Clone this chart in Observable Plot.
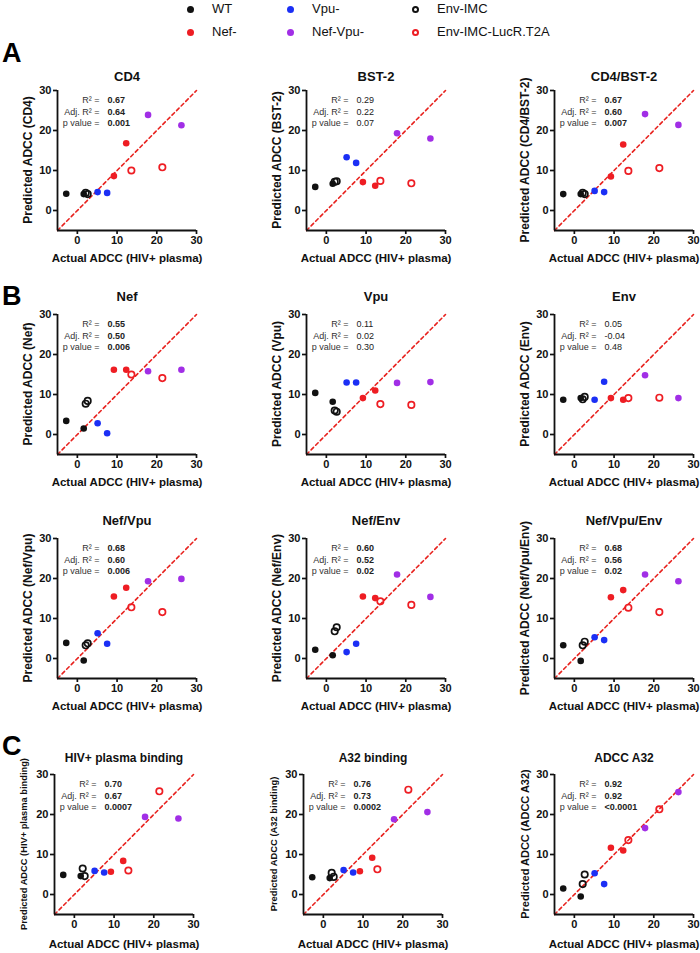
<!DOCTYPE html>
<html><head><meta charset="utf-8">
<script src="https://cdn.jsdelivr.net/npm/d3@7"></script>
<script src="https://cdn.jsdelivr.net/npm/@observablehq/plot@0.6"></script>
<style>
body{margin:0;background:#fff;font-family:"Liberation Sans",Arial,Helvetica,sans-serif;}
#root{position:relative;width:700px;height:953px;overflow:hidden;background:#fff;}
.abs{position:absolute;white-space:nowrap;line-height:1;}
</style></head><body><div id="root"></div>
<script>
// ---------- DATA ----------
const groups = ["WT", "Nef-", "Vpu-", "Nef-Vpu-", "Env-IMC", "Env-IMC-LucR.T2A"];
const groupColors = ["#111111", "#ee1d23", "#1b2ff5", "#a12ee6", "#111111", "#ee1d23"];
const groupFilled = [true, true, true, true, false, false];

const pointGroup = ["WT", "WT", "Env-IMC", "Env-IMC", "Vpu-", "Vpu-", "Nef-", "Nef-",
  "Env-IMC-LucR.T2A", "Env-IMC-LucR.T2A", "Nef-Vpu-", "Nef-Vpu-"];
const actualADCC = [-2.8, 1.6, 2.1, 2.6, 5.1, 7.5, 9.2, 12.3, 13.6, 21.4, 17.8, 26.2];

const predCD4      = [4.2, 4.1, 4.4, 4.1, 4.6, 4.4, 8.6, 16.8, 10.0, 10.8, 23.9, 21.3];
const predBST2     = [5.9, 6.7, 7.2, 7.3, 13.3, 11.9, 7.1, 6.2, 7.4, 6.8, 19.3, 18.0];
const predCD4BST2  = [4.1, 4.1, 4.4, 4.1, 4.9, 4.6, 8.5, 16.5, 9.9, 10.6, 24.1, 21.4];
const predNef      = [3.4, 1.5, 7.7, 8.4, 2.8, 0.3, 16.2, 16.2, 15.0, 14.1, 15.8, 16.2];
const predVpu      = [10.4, 8.2, 6.0, 5.7, 13.0, 13.0, 9.1, 11.0, 7.6, 7.4, 12.9, 13.1];
const predEnv      = [8.7, 9.1, 8.8, 9.4, 8.7, 13.2, 9.1, 8.7, 9.1, 9.2, 14.8, 9.1];
const predNefVpu   = [3.9, -0.5, 3.3, 3.8, 6.3, 3.7, 15.5, 17.7, 12.8, 11.6, 19.3, 19.9];
const predNefEnv   = [2.2, 0.8, 6.8, 7.8, 1.6, 3.7, 15.5, 15.1, 14.3, 13.4, 21.0, 15.4];
const predNefVpuEnv= [3.3, -0.6, 3.3, 4.2, 5.3, 4.6, 15.3, 17.1, 12.7, 11.6, 21.0, 19.3];
const predPlasmaBinding = [4.9, 4.6, 6.5, 4.6, 5.9, 5.5, 5.7, 8.4, 6.0, 25.8, 19.4, 19.0];
const predA32Binding    = [4.3, 4.1, 5.4, 4.4, 6.1, 5.5, 5.8, 9.2, 6.3, 26.2, 18.8, 20.6];
const predADCCA32       = [1.5, -0.5, 2.6, 5.0, 5.3, 2.6, 11.7, 11.0, 13.6, 21.3, 16.6, 25.6];

const panelTitles = ["CD4", "BST-2", "CD4/BST-2", "Nef", "Vpu", "Env", "Nef/Vpu", "Nef/Env",
  "Nef/Vpu/Env", "HIV+ plasma binding", "A32 binding", "ADCC A32"];
const yLabels = ["Predicted ADCC (CD4)", "Predicted ADCC (BST-2)", "Predicted ADCC (CD4/BST-2)",
  "Predicted ADCC (Nef)", "Predicted ADCC (Vpu)", "Predicted ADCC (Env)",
  "Predicted ADCC (Nef/Vpu)", "Predicted ADCC (Nef/Env)", "Predicted ADCC (Nef/Vpu/Env)",
  "Predicted ADCC (HIV+ plasma binding)", "Predicted ADCC (A32 binding)", "Predicted ADCC (ADCC A32)"];
const xLabel = "Actual ADCC (HIV+ plasma)";
const statLabels = ["R\u00B2 =", "Adj. R\u00B2 =", "p value ="];
const r2Values    = ["0.67", "0.29", "0.67", "0.55", "0.11", "0.05", "0.68", "0.60", "0.68", "0.70", "0.76", "0.92"];
const adjR2Values = ["0.64", "0.22", "0.60", "0.50", "0.02", "-0.04", "0.60", "0.52", "0.56", "0.67", "0.73", "0.92"];
const pValues     = ["0.001", "0.07", "0.007", "0.006", "0.30", "0.48", "0.006", "0.02", "0.02", "0.0007", "0.0002", "<0.0001"];
const significant = [true, false, true, true, false, false, true, true, true, true, true, true];
const panelLetters = ["A", "B", "C"];
const tickValues = [0, 10, 20, 30];
const axisDomain = [-5, 30];

const predictedSeries = [predCD4, predBST2, predCD4BST2, predNef, predVpu, predEnv,
  predNefVpu, predNefEnv, predNefVpuEnv, predPlasmaBinding, predA32Binding, predADCCA32];

// ---------- LAYOUT ----------
const font = '"Liberation Sans", Arial, Helvetica, sans-serif';
const root = document.getElementById("root");
function addText(txt, css) {
  const d = document.createElement("div");
  d.className = "abs"; d.textContent = txt;
  Object.assign(d.style, {fontFamily: font}, css);
  root.appendChild(d);
  return d;
}

// legend
const legendCols = [190, 290, 415];
const legendRows = [9, 32];
groups.forEach((g, i) => {
  const cx = legendCols[Math.floor(i / 2)], cy = legendRows[i % 2];
  const m = document.createElement("div");
  m.className = "abs";
  const filled = groupFilled[i];
  Object.assign(m.style, {
    left: (cx - 3.5) + "px", top: (cy - 3.5) + "px", width: "7px", height: "7px",
    borderRadius: "50%", boxSizing: "border-box",
    background: filled ? groupColors[i] : "transparent",
    border: filled ? "none" : `2px solid ${groupColors[i]}`
  });
  root.appendChild(m);
  addText(g, {left: (cx + 22) + "px", top: (cy - 7) + "px", fontSize: "13px", color: "#111"});
});

// panel letters
const letterPos = [[2, 40], [2, 283], [2, 733]];
panelLetters.forEach((L, i) => addText(L, {left: letterPos[i][0] + "px", top: letterPos[i][1] + "px",
  fontSize: "27px", fontWeight: "bold", color: "#000"}));

const rowTops = [90, 314, 538, 774];
const colLefts = [[57, 306, 554], [57, 306, 554], [57, 306, 554], [54, 303, 554]];
const titleOffset = [19, 23, 23, 21];
const titleSize = [13, 13, 13, 12];
const yLabelSize = [12, 12, 12, 12, 12, 12, 12, 12, 12, 9.3, 9.4, 11];
const mL = 60, mR = 30, mT = 40, mB = 50, pw = 139, ph = 140;

predictedSeries.forEach((series, p) => {
  const row = Math.floor(p / 3), col = p % 3;
  const pts = actualADCC.map((x, i) => ({x, y: series[i], g: pointGroup[i]}));
  const dotMarks = groups.map((g, gi) => Plot.dot(pts.filter(d => d.g === g), {
    x: "x", y: "y",
    r: groupFilled[gi] ? 3.3 : 3.2,
    fill: groupFilled[gi] ? groupColors[gi] : "none",
    stroke: groupColors[gi],
    strokeWidth: groupFilled[gi] ? 0 : 1.7
  }));
  const bold = significant[p] ? "bold" : "normal";
  const statVals = [r2Values[p], adjR2Values[p], pValues[p]];
  const chart = Plot.plot({
    width: mL + pw + mR, height: mT + ph + mB,
    marginLeft: mL, marginRight: mR, marginTop: mT, marginBottom: mB,
    x: {domain: axisDomain, nice: false, zero: false},
    y: {domain: axisDomain, nice: false, zero: false},
    style: {background: "transparent", overflow: "visible", fontFamily: font, color: "#111"},
    marks: [
      Plot.line(axisDomain, {x: d => d, y: d => d, stroke: "#e8231f", strokeWidth: 1.6, strokeDasharray: "3.5,3"}),
      Plot.axisX({ticks: tickValues, tickSize: 4, tickPadding: 2, strokeWidth: 1.7, fontSize: 11, fontWeight: "bold", label: null}),
      Plot.axisY({ticks: tickValues, tickSize: 4, tickPadding: 2, strokeWidth: 1.7, fontSize: 11, fontWeight: "bold", label: null}),
      Plot.ruleX([axisDomain[0]], {stroke: "#111", strokeWidth: 1.8}),
      Plot.ruleY([axisDomain[0]], {stroke: "#111", strokeWidth: 1.8}),
      ...dotMarks,
      ...statLabels.map((s, i) => Plot.text([s], {text: d => d, frameAnchor: "top-left", dx: 42, dy: 6.5 + i * 11.5,
        fontSize: 9, fill: "#333", textAnchor: "end", fontWeight: "normal"})),
      ...statVals.map((s, i) => Plot.text([s], {text: d => d, frameAnchor: "top-left", dx: 50, dy: 6.5 + i * 11.5,
        fontSize: 9, fill: "#222", textAnchor: "start", fontWeight: bold})),
      Plot.text([panelTitles[p]], {text: d => d, frameAnchor: "top", dy: -titleOffset[row],
        fontSize: titleSize[row], fontWeight: "bold", fill: "#111"}),
      Plot.text([xLabel], {text: d => d, frameAnchor: "bottom", dy: row === 3 ? 33 : 31,
        fontSize: 11.5, fontWeight: "bold", fill: "#111"})
    ]
  });
  chart.style.position = "absolute";
  chart.style.left = (colLefts[row][col] - mL) + "px";
  chart.style.top = (rowTops[row] - mT) + "px";
  chart.style.maxWidth = "none";
  root.appendChild(chart);

  // rotated y-axis label (HTML text), centred on the plot area's left side
  addText(yLabels[p], {
    left: (colLefts[row][col] - 29) + "px", top: (rowTops[row] + ph / 2) + "px",
    transform: "translate(-50%, -50%) rotate(-90deg)",
    fontSize: yLabelSize[p] + "px", fontWeight: "bold", color: "#111"
  });
});
</script>
</body></html>
